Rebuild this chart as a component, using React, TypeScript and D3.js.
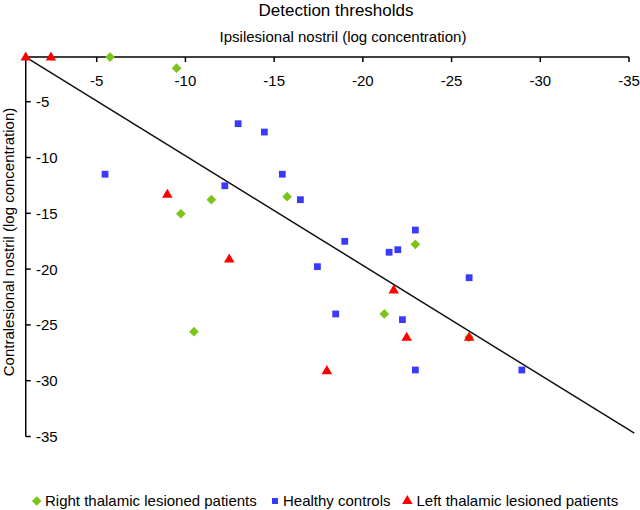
import React from "react";
import * as d3 from "d3";

const rightX = [-5.75, -9.5, -9.74, -11.46, -15.73, -22.96, -21.21, -10.48, -25.99];
const rightY = [-1.0, -2.0, -15.04, -13.78, -13.51, -17.78, -24.02, -25.61, -26.11];

const healthyX = [-5.47, -12.22, -12.97, -14.45, -15.46, -16.48, -17.44, -18.98, -22.96, -21.48, -21.97, -25.99, -18.47, -22.23, -22.96, -28.96];
const healthyY = [-11.5, -12.53, -6.97, -7.72, -11.5, -13.78, -19.78, -17.51, -16.5, -18.49, -18.26, -20.77, -24.02, -24.53, -29.04, -29.04];

const leftX = [-1.0, -2.42, -8.98, -12.47, -21.74, -22.47, -25.99, -17.97];
const leftY = [-1.0, -1.0, -13.3, -19.1, -21.87, -26.11, -26.11, -29.1];

const refLineX = [-1, -35.3];
const refLineY = [-1, -34.7];

const tickValues = [-5, -10, -15, -20, -25, -30, -35];
const legendLabels = ["Right thalamic lesioned patients", "Healthy controls", "Left thalamic lesioned patients"];

const GREEN = "#7cc419";
const BLUE = "#3a3afa";
const RED = "#ff0000";
const FONT = "Liberation Sans, Arial, sans-serif";

export default function App() {
  const x = d3.scaleLinear().domain([0, -35]).range([8, 629]);
  const y = d3.scaleLinear().domain([0, -35]).range([45.9, 436.5]);
  const x0 = x(-1);
  const y0 = y(-1);

  const diamond = d3.symbol().type(d3.symbolDiamond2).size(60)();
  const square = d3.symbol().type(d3.symbolSquare).size(46)();
  const triangle = d3.symbol().type(d3.symbolTriangle).size(48)();

  const line = d3.line<number>().x((_, i) => x(refLineX[i])).y((v) => y(v));

  return (
    <svg width={640} height={510} style={{ position: "absolute", left: 0, top: 0 }} fontFamily={FONT}>
      <rect width={640} height={510} fill="#fff" />
      <text x={336} y={16} textAnchor="middle" fontSize={17}>Detection thresholds</text>
      <text x={343} y={42} textAnchor="middle" fontSize={15}>Ipsilesional nostril (log concentration)</text>
      <text transform={`translate(14,242) rotate(-90)`} textAnchor="middle" fontSize={15}>
        Contralesional nostril (log concentration)
      </text>

      {/* x axis */}
      <line x1={x0} x2={x(-35)} y1={y0} y2={y0} stroke="#000" strokeWidth={1.5} />
      {tickValues.map((t) => (
        <g key={"xt" + t}>
          <line x1={x(t)} x2={x(t)} y1={y0} y2={y0 + 5} stroke="#000" strokeWidth={1.5} />
          <text x={x(t)} y={85.5} textAnchor="middle" fontSize={15}>{t}</text>
        </g>
      ))}
      {/* y axis */}
      <line x1={x0} x2={x0} y1={y0} y2={y(-35)} stroke="#000" strokeWidth={1.5} />
      {tickValues.map((t) => (
        <g key={"yt" + t}>
          <line x1={x0} x2={x0 + 5} y1={y(t)} y2={y(t)} stroke="#000" strokeWidth={1.5} />
          <text x={36} y={y(t)} dy="0.36em" textAnchor="start" fontSize={15}>{t}</text>
        </g>
      ))}

      <path d={line(refLineY) || ""} fill="none" stroke="#111" strokeWidth={1.5} />

      {healthyX.map((v, i) => (
        <path key={"h" + i} d={square} transform={`translate(${x(v)},${y(healthyY[i])})`} fill={BLUE} />
      ))}
      {rightX.map((v, i) => (
        <path key={"r" + i} d={diamond} transform={`translate(${x(v)},${y(rightY[i])})`} fill={GREEN} />
      ))}
      {leftX.map((v, i) => (
        <path key={"l" + i} d={triangle} transform={`translate(${x(v)},${y(leftY[i]) + 0.5})`} fill={RED} />
      ))}

      {/* legend */}
      <g fontSize={15}>
        <path d={diamond} transform="translate(36.7,501)" fill={GREEN} />
        <text x={45} y={501} dy="0.36em">{legendLabels[0]}</text>
        <path d={d3.symbol().type(d3.symbolSquare).size(36)()} transform="translate(275,501)" fill={BLUE} />
        <text x={283} y={501} dy="0.36em">{legendLabels[1]}</text>
        <path d={triangle} transform="translate(407.3,501)" fill={RED} />
        <text x={416.5} y={501} dy="0.36em">{legendLabels[2]}</text>
      </g>
    </svg>
  );
}
